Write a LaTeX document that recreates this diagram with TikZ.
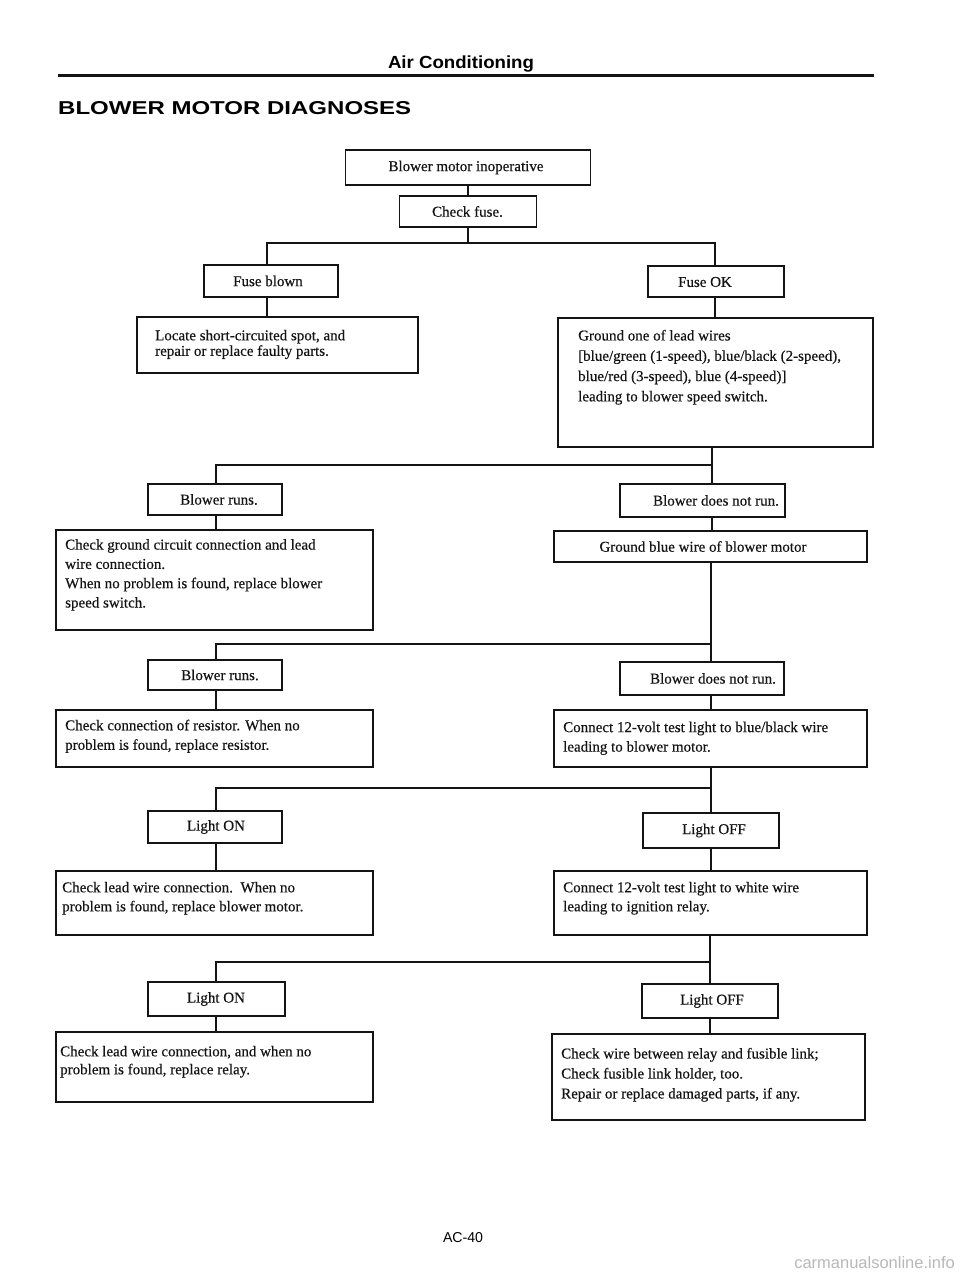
\documentclass[tikz,border=0pt]{standalone}
\usepackage{fontspec}
\usepackage{graphicx}
\setmainfont{Liberation Serif}[FakeBold=0.4]
\newfontfamily\hdrfont{Liberation Sans}
\definecolor{ink}{gray}{0.08}
\definecolor{wm}{gray}{0.72}
\begin{document}
\begin{tikzpicture}[x=1pt,y=-1pt,
  box/.style={draw=ink,line width=1.5pt,inner sep=0pt},
  lbl/.style={font=\fontsize{15}{19}\selectfont,inner sep=0pt,text=ink},
  txt/.style={anchor=north west,inner sep=0pt,align=left,text=ink},
  conn/.style={draw=ink,line width=1.5pt}]
\useasboundingbox (0,0) rectangle (960,1276);
\fill[white] (0,0) rectangle (960,1276);

% header
\node[anchor=base,inner sep=0pt] (hdr) at (461,69) {\resizebox{146pt}{12.7pt}{\hdrfont\bfseries Air Conditioning}};
\draw[line width=3pt,ink] (58,76) -- (874,76);
\node[anchor=base west,inner sep=0pt] (title) at (58,115) {\resizebox{353pt}{13pt}{\hdrfont\bfseries BLOWER MOTOR DIAGNOSES}};

% boxes
\node[box,minimum width=245pt,minimum height=35pt] (A) at (468,167.5) {};
\node[box,minimum width=137pt,minimum height=31pt] (B) at (468,211.5) {};
\node[box,minimum width=134pt,minimum height=32pt] (FB) at (271,281) {};
\node[box,minimum width=136pt,minimum height=31pt] (FO) at (716,281.5) {};
\node[box,minimum width=281pt,minimum height=56pt] (LC) at (277.5,345) {};
\node[box,minimum width=315pt,minimum height=129pt] (GO) at (715.5,382.5) {};
\node[box,minimum width=134pt,minimum height=31pt] (BR1) at (215,499.5) {};
\node[box,minimum width=165pt,minimum height=33pt] (BD1) at (702.5,500.5) {};
\node[box,minimum width=317pt,minimum height=100pt] (CG) at (214.5,580) {};
\node[box,minimum width=313pt,minimum height=31pt] (GB) at (710.5,546.5) {};
\node[box,minimum width=134pt,minimum height=30pt] (BR2) at (215,675) {};
\node[box,minimum width=164pt,minimum height=33pt] (BD2) at (702,678.5) {};
\node[box,minimum width=317pt,minimum height=57pt] (CC) at (214.5,738.5) {};
\node[box,minimum width=313pt,minimum height=57pt] (C12) at (710.5,738.5) {};
\node[box,minimum width=134pt,minimum height=32pt] (LO1) at (215,827) {};
\node[box,minimum width=136pt,minimum height=35pt] (LF1) at (711,830.5) {};
\node[box,minimum width=317pt,minimum height=64pt] (CL) at (214.5,903) {};
\node[box,minimum width=313pt,minimum height=64pt] (CW) at (710.5,903) {};
\node[box,minimum width=137pt,minimum height=34pt] (LO2) at (216.5,999) {};
\node[box,minimum width=136pt,minimum height=34pt] (LF2) at (710,1001) {};
\node[box,minimum width=317pt,minimum height=70pt] (CR) at (214.5,1067) {};
\node[box,minimum width=313pt,minimum height=86pt] (CF) at (708.5,1077) {};

% short labels
\node[lbl] (tA) at (466,167.5) {Blower motor inoperative};
\node[lbl] (tB) at (467.5,211.5) {Check fuse.};
\node[lbl] (tFB) at (268,281) {Fuse blown};
\node[lbl] (tFO) at (705,282) {Fuse OK};
\node[lbl] (tBR1) at (219,499.5) {Blower runs.};
\node[lbl] (tBD1) at (716,500.5) {Blower does not run.};
\node[lbl] (tGB) at (703,546.5) {Ground blue wire of blower motor};
\node[lbl] (tBR2) at (220,675) {Blower runs.};
\node[lbl] (tBD2) at (713,678.5) {Blower does not run.};
\node[lbl] (tLO1) at (216,827) {Light ON};
\node[lbl] (tLF1) at (714,830.5) {Light OFF};
\node[lbl] (tLO2) at (216,999) {Light ON};
\node[lbl] (tLF2) at (712,1001) {Light OFF};

% long texts
\node[txt,font=\fontsize{15}{15.5}\selectfont] (tLC) at (155,329.7) {Locate short-circuited spot, and\\repair or replace faulty parts.};
\node[txt,font=\fontsize{15}{20.3}\selectfont] (tGO) at (578,329.7) {Ground one of lead wires\\{}[blue/green (1-speed), blue/black (2-speed),\\blue/red (3-speed), blue (4-speed)]\\leading to blower speed switch.};
\node[txt,font=\fontsize{15}{19.3}\selectfont] (tCG) at (65,539) {Check ground circuit connection and lead\\wire connection.\\When no problem is found, replace blower\\speed switch.};
\node[txt,font=\fontsize{15}{19.5}\selectfont] (tCC) at (65,719.5) {Check connection of resistor. When no\\problem is found, replace resistor.};
\node[txt,font=\fontsize{15}{19.5}\selectfont] (tC12) at (563,721.5) {Connect 12-volt test light to blue/black wire\\leading to blower motor.};
\node[txt,font=\fontsize{15}{19}\selectfont] (tCL) at (62,881.7) {Check lead wire connection.\ \ When no\\problem is found, replace blower motor.};
\node[txt,font=\fontsize{15}{19}\selectfont] (tCW) at (563,881.7) {Connect 12-volt test light to white wire\\leading to ignition relay.};
\node[txt,font=\fontsize{15}{18}\selectfont] (tCR) at (60,1045.7) {Check lead wire connection, and when no\\problem is found, replace relay.};
\node[txt,font=\fontsize{15}{20}\selectfont] (tCF) at (561,1047.7) {Check wire between relay and fusible link;\\Check fusible link holder, too.\\Repair or replace damaged parts, if any.};

% junctions
\coordinate (jl0) at (267,243); \coordinate (jr0) at (715,243);
\coordinate (jl1) at (216,465); \coordinate (jr1) at (712,465);
\coordinate (jl2) at (216,644); \coordinate (jr2) at (711,644);
\coordinate (jl3) at (216,788); \coordinate (jr3) at (711,788);
\coordinate (jl4) at (216,962); \coordinate (jr4) at (710,962);

% connectors
\draw[conn] (A.south) -- (A.south |- B.north);
\draw[conn] (B.south) -- (B.south |- jl0);
\draw[conn] (jl0 |- FB.north) -- (jl0) -- (jr0) -- (jr0 |- FO.north);
\draw[conn] (jl0 |- FB.south) -- (jl0 |- LC.north);
\draw[conn] (jr0 |- FO.south) -- (jr0 |- GO.north);

\draw[conn] (jr1 |- GO.south) -- (jr1 |- BD1.north);
\draw[conn] (jr1) -- (jl1) -- (jl1 |- BR1.north);
\draw[conn] (jl1 |- BR1.south) -- (jl1 |- CG.north);
\draw[conn] (jr1 |- BD1.south) -- (jr1 |- GB.north);

\draw[conn] (jr2 |- GB.south) -- (jr2 |- BD2.north);
\draw[conn] (jr2) -- (jl2) -- (jl2 |- BR2.north);
\draw[conn] (jl2 |- BR2.south) -- (jl2 |- CC.north);
\draw[conn] (jr2 |- BD2.south) -- (jr2 |- C12.north);

\draw[conn] (jr3 |- C12.south) -- (jr3 |- LF1.north);
\draw[conn] (jr3) -- (jl3) -- (jl3 |- LO1.north);
\draw[conn] (jl3 |- LO1.south) -- (jl3 |- CL.north);
\draw[conn] (jr3 |- LF1.south) -- (jr3 |- CW.north);

\draw[conn] (jr4 |- CW.south) -- (jr4 |- LF2.north);
\draw[conn] (jr4) -- (jl4) -- (jl4 |- LO2.north);
\draw[conn] (jl4 |- LO2.south) -- (jl4 |- CR.north);
\draw[conn] (jr4 |- LF2.south) -- (jr4 |- CF.north);

% footer
\node[anchor=base,inner sep=0pt] (pg) at (463,1242) {\resizebox{40pt}{10pt}{\hdrfont AC-40}};
\node[anchor=base east,inner sep=0pt,text=wm] (wmk) at (955,1268) {\hdrfont\fontsize{16.5}{16.5}\selectfont carmanualsonline.info};
\end{tikzpicture}
\end{document}
